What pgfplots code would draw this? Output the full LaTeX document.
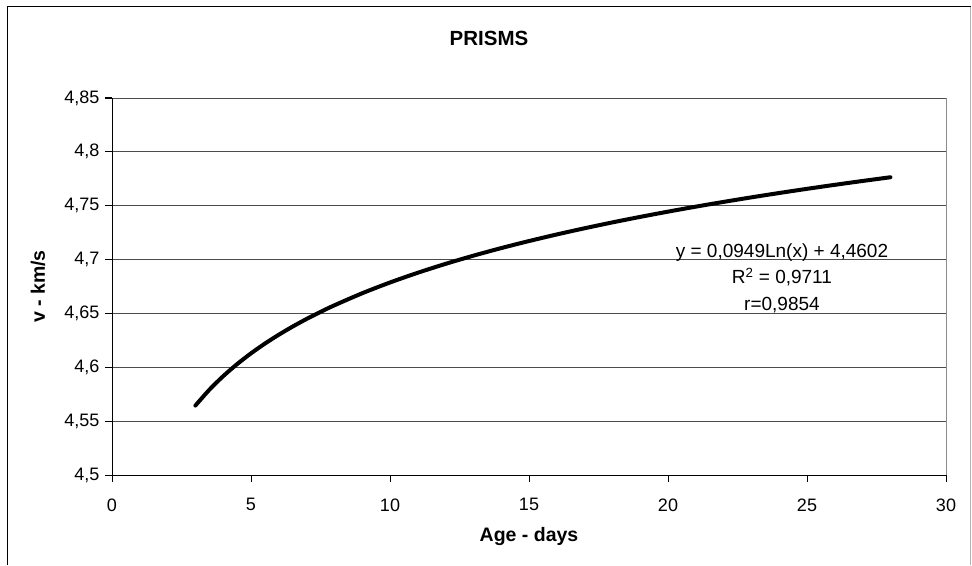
\documentclass[border=0pt]{standalone}
\usepackage{fontspec}
\setmainfont{Liberation Sans}
\usepackage{pgfplots}
\pgfplotsset{compat=1.18}
\begin{document}
\begin{tikzpicture}[x=1pt,y=1pt]
\useasboundingbox (0,0) rectangle (972,565);
\draw[black, line width=1pt] (7,0) -- (7,558) -- (970.5,558);
\draw[black!30, line width=1pt] (970.5,558) -- (970.5,0);
\begin{axis}[
  at={(112pt,90pt)}, anchor=south west,
  scale only axis, width=834pt, height=377pt,
  xmin=0, xmax=30, ymin=4.5, ymax=4.85,
  xtick={0,5,...,30},
  ytick={4.5,4.55,4.6,4.65,4.7,4.75,4.8,4.85},
  axis lines*=left,
  axis line style={-, black, line width=1pt},
  tick align=outside, xtick pos=bottom, ytick pos=left,
  major tick length=7pt,
  tick style={black, line width=1pt},
  ymajorgrids, major grid style={black!70, line width=0.8pt},
  /pgf/number format/assume math mode=true,
  /pgf/number format/use comma,
  /pgf/number format/precision=2,
  ticklabel style={font=\fontsize{18}{20}\selectfont},
  xticklabel style={yshift=-13pt},
  yticklabel style={xshift=-2pt},
  xlabel={Age - days},
  ylabel={v - km/s},
  title={PRISMS},
  xlabel style={at={(axis description cs:0.5,0)}, anchor=center, yshift=-61pt, font=\fontsize{19.5}{22}\selectfont\bfseries},
  ylabel style={at={(axis description cs:-0.0887,0.5)}, anchor=center, rotate=0, font=\fontsize{19.5}{22}\selectfont\bfseries},
  title style={at={(axis description cs:0.452,1.143)}, anchor=center, font=\fontsize{20.5}{22}\selectfont\bfseries},
  clip=false,
]
\draw[black!45, line width=1pt] (axis cs:30,4.5) -- (axis cs:30,4.85);
\addplot[black, line width=4pt, smooth, line cap=round, line join=round] coordinates {
(3,4.56446) (3.5,4.57909) (4,4.59176) (4.5,4.60294) (5,4.61294) (5.5,4.62198)
(6,4.63024) (6.5,4.63783) (7,4.64487) (7.5,4.65141) (8,4.65754) (9,4.66872)
(10,4.67872) (11,4.68776) (12,4.69602) (13,4.70361) (14,4.71065) (15,4.71719)
(16,4.72332) (17,4.72907) (18,4.73450) (19,4.73963) (20,4.74449) (21,4.74913)
(22,4.75354) (23,4.75776) (24,4.76180) (25,4.76567) (26,4.76939) (27,4.77297)
(28,4.77643)
};
\node[align=center, font=\fontsize{19}{26.5}\selectfont, inner sep=0pt] at (axis cs:24.1,4.683)
  {y = 0,0949Ln(x) + 4,4602\\R\textsuperscript{2} = 0,9711\\r=0,9854};
\end{axis}
\end{tikzpicture}
\end{document}
